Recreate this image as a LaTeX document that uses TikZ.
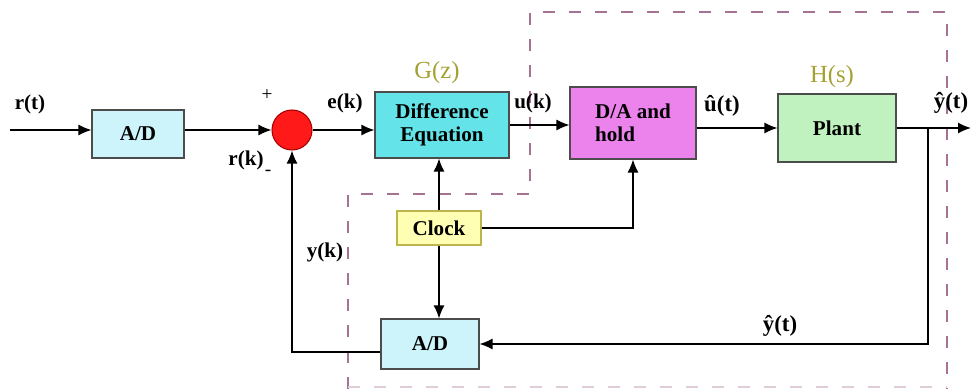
\documentclass[tikz,border=0pt]{standalone}
\usepackage{fontspec}
\setmainfont{Liberation Serif}
\usetikzlibrary{arrows.meta,calc}
\definecolor{adcyan}{RGB}{204,244,250}
\definecolor{decyan}{RGB}{100,228,232}
\definecolor{daviolet}{RGB}{236,130,236}
\definecolor{plantgreen}{RGB}{192,242,192}
\definecolor{clockyellow}{RGB}{255,255,180}
\definecolor{tfolive}{RGB}{165,160,50}
\definecolor{regionpink}{RGB}{165,115,145}

\begin{document}
\begin{tikzpicture}[
    x=0.02cm,
    y=0.02cm,
    every node/.style={font=\fontsize{12}{13}\selectfont\bfseries},
    blk/.style={draw=black!70, line width=0.6pt, inner sep=0pt, align=center},
    sig/.style={draw=black, line width=0.8pt},
    arr/.style={sig, -{Latex[length=2.6mm,width=2.2mm]}},
    tf/.style={font=\fontsize{14}{15}\selectfont, text=tfolive},
    hatlbl/.style={font=\fontsize{13}{14}\selectfont\bfseries},
    region/.style={draw=regionpink, line width=0.9pt, dash pattern=on 0.24cm off 0.28cm}
  ]
    \useasboundingbox (0,0) rectangle (971,389);

    % Dashed region round the sampled part.
    \draw[region] (348,0) -- (348,195) -- (530,195) -- (530,377) -- (947,377) -- (947,0);
    \draw[region, draw=regionpink!35] (348,2) -- (947,2);

    % Blocks.
    \node[blk, fill=adcyan, minimum width=1.84cm, minimum height=0.96cm] (adin) at (138,255) {A/D};
    \node[circle, draw=red!65!black, fill=red!90!white, line width=0.6pt,
      minimum size=0.8cm, inner sep=0pt] (summer) at (292,259) {};
    \node[blk, fill=decyan, minimum width=2.68cm, minimum height=1.32cm] (diffeq) at (442,264)
      {Difference\\Equation};
    \node[blk, fill=daviolet, minimum width=2.52cm, minimum height=1.44cm, align=left] (dahold) at (633,266)
      {D/A and\\hold};
    \node[blk, fill=plantgreen, minimum width=2.36cm, minimum height=1.36cm] (plant) at (837,261) {Plant};
    \node[blk, draw=olive!60, fill=clockyellow, minimum width=1.68cm, minimum height=0.68cm] (clock) at (439,161) {Clock};
    \node[blk, fill=adcyan, minimum width=1.96cm, minimum height=1.0cm] (adfb) at (430,45) {A/D};

    \coordinate (rin) at (10,259);
    \coordinate (yout) at (971,261);
    \coordinate (ytap) at (928,261);

    % Forward path.
    \draw[arr] (rin) -- (rin -| adin.west);
    \draw[arr] (adin.east |- summer) -- (summer.west);
    \draw[arr] (summer.east) -- (summer.east -| diffeq.west);
    \draw[arr] (diffeq.east) -- (diffeq.east -| dahold.west);
    \draw[arr] (dahold.east |- plant) -- (plant.west);
    \draw[arr] (plant.east) -- (yout);

    % Feedback path.
    \draw[arr] (ytap) |- (adfb.east);
    \draw[arr] ($(adfb.west)+(0,-8)$) -| (summer.south);

    % Clock lines.
    \draw[arr] (clock.north) -- (clock.north |- diffeq.south);
    \draw[arr] (clock.east) -| (dahold.south);
    \draw[arr] (clock.south) -- (clock.south |- adfb.north);

    % Labels.
    \node (lrt) at (30,285) {r(t)};
    \node[font=\fontsize{11}{12}\selectfont] (lplus) at (267,294) {+};
    \node (lrk) at (246,229) {r(k)};
    \node[font=\fontsize{11}{12}\selectfont] (lminus) at (268,216) {-};
    \node (lek) at (345,286) {e(k)};
    \node[tf] (lgz) at (437,316) {G(z)};
    \node (luk) at (533,286) {u(k)};
    \node[hatlbl] (lut) at (722,283) {û(t)};
    \node[tf] (lhs) at (832,312) {H(s)};
    \node[hatlbl] (lyt) at (951,286) {ŷ(t)};
    \node (lyk) at (325,137) {y(k)};
    \node[hatlbl] (lytfb) at (780,63) {ŷ(t)};
  \end{tikzpicture}
\end{document}
